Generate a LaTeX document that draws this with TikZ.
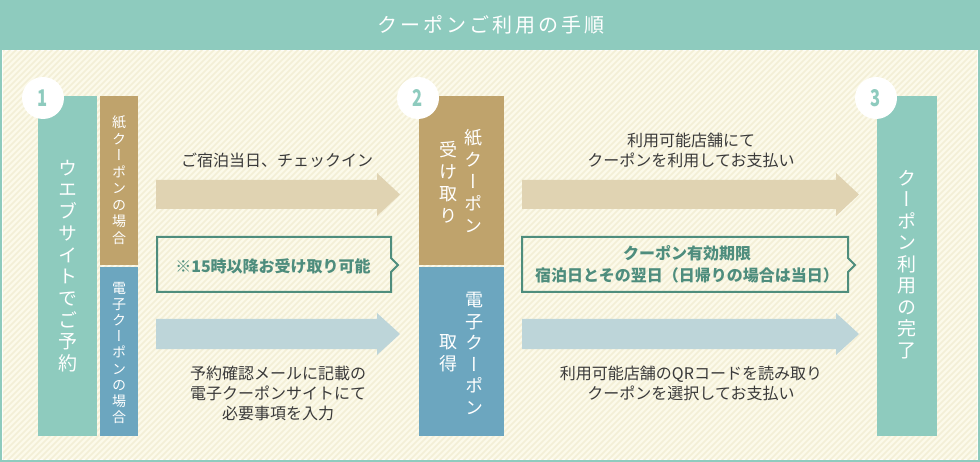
\documentclass[tikz,border=0pt]{standalone}
\usepackage{fontspec}
\setmainfont{Noto Sans CJK JP}
\newfontfamily\jpv[RawFeature=+vert]{Noto Sans CJK JP}
\definecolor{cteal}{HTML}{8ECBBE}
\definecolor{cgold}{HTML}{BFA36C}
\definecolor{cblue}{HTML}{6CA6BF}
\definecolor{carrgold}{HTML}{E0D3B2}
\definecolor{carrblue}{HTML}{BDD5D9}
\definecolor{cnote}{HTML}{4E8D7D}
\definecolor{ccream}{HTML}{FCFAEA}
\definecolor{cstripe}{HTML}{F3EFD6}
\definecolor{ctext}{HTML}{3A3A3A}
\tikzset{
  panel/.style={inner sep=0pt, anchor=north west},
  numcirc/.style={circle, fill=white, minimum size=42pt, inner sep=0pt, text=cteal},
  bodytext/.style={text=ctext, align=center, font=\fontsize{16}{20}\selectfont, inner sep=0pt},
  notetext/.style={text=cnote, align=center, font=\bfseries\fontsize{16}{22}\selectfont, inner sep=0pt},
  notebox/.style={draw=cnote, line width=2pt, line join=miter},
  vch/.style={text=white, inner sep=0pt}
}
\newcommand\vcol[6]{%
  \foreach \c [count=\i] in {#6} {%
    \node[vch, font=\jpv\fontsize{#5}{#5}\selectfont, text height={0.88*#5pt}, text depth={0.12*#5pt}]
      (#1-\i) at (#2, {#3+(\i-1)*#4}) {\c};}%
}
\newcommand\numtxt[1]{\scalebox{0.72}[1]{\bfseries\fontsize{23}{23}\selectfont #1}}
\begin{document}
\begin{tikzpicture}[x=1pt,y=-1pt]
\useasboundingbox (0,0) rectangle (980,462);
% frame and header
\fill[cteal] (0,0) rectangle (980,462);
\fill[white!70!ccream] (2,50) rectangle (978,460);
\fill[ccream] (3,51) rectangle (977,459);
\begin{scope}
  \clip (3,51) rectangle (977,459);
  \foreach \s in {-420,-414,...,980} {
    \draw[cstripe, line width=1.6pt] (\s,462) -- ++(420,-420);
  }
\end{scope}
\node[text=white, font=\fontsize{20}{20}\selectfont\addfontfeature{LetterSpace=15}] (title) at (491,25) {クーポンご利用の手順};

% step 1 panels
\node[panel, fill=cteal, minimum width=59pt, minimum height=340pt] (b1) at (38,96) {};
\node[panel, fill=cgold, minimum width=38pt, minimum height=169pt] (b1p) at (100,96) {};
\node[panel, fill=cblue, minimum width=38pt, minimum height=169pt] (b1e) at (100,267) {};
% step 2 panels
\node[panel, fill=cgold, minimum width=85pt, minimum height=169pt] (b2p) at (419,96) {};
\node[panel, fill=cblue, minimum width=85pt, minimum height=169pt] (b2e) at (419,267) {};
% step 3 panel
\node[panel, fill=cteal, minimum width=60pt, minimum height=340pt] (b3) at (877,96) {};

% number circles
\node[numcirc] (c1) at (43,98) {\numtxt{1}};
\node[numcirc] (c2) at (418,98) {\numtxt{2}};
\node[numcirc] (c3) at (876,98) {\numtxt{3}};

% vertical texts
\vcol{v1}{68}{168}{21.7}{19}{ウ,エ,ブ,サ,イ,ト,で,ご,予,約}
\vcol{v1p}{119}{122.3}{16.5}{14}{紙,ク,ー,ポ,ン,の,場,合}
\vcol{v1e}{119}{287.7}{16.2}{14}{電,子,ク,ー,ポ,ン,の,場,合}
\vcol{v2pa}{473}{138}{22}{18}{紙,ク,ー,ポ,ン}
\vcol{v2pb}{448}{149.5}{22}{18}{受,け,取,り}
\vcol{v2ea}{474}{300}{21.5}{18}{電,子,ク,ー,ポ,ン}
\vcol{v2eb}{448}{342}{22}{18}{取,得}
\vcol{v3}{907}{178}{21.5}{19}{ク,ー,ポ,ン,利,用,の,完,了}

% arrows
\fill[carrgold] (156,180) -- (377,180) -- (377,173) -- (400,194.5) -- (377,216) -- (377,209) -- (156,209) -- cycle;
\fill[carrblue] (156,319) -- (377,319) -- (377,313) -- (400,334) -- (377,355) -- (377,349) -- (156,349) -- cycle;
\fill[carrgold] (522,180) -- (836,180) -- (836,173) -- (859,194.5) -- (836,216) -- (836,209) -- (522,209) -- cycle;
\fill[carrblue] (522,319) -- (836,319) -- (836,313) -- (859,334) -- (836,355) -- (836,349) -- (522,349) -- cycle;

% note boxes
\draw[notebox] (157,237) -- (391,237) -- (391,258) -- (398,265) -- (391,272) -- (391,292) -- (157,292) -- cycle;
\draw[notebox] (522,237) -- (848,237) -- (848,258) -- (855,265) -- (848,272) -- (848,292) -- (522,292) -- cycle;

% texts
\node[bodytext] (t1) at (277,160) {ご宿泊当日、チェックイン};
\node[notetext] (n1) at (273,266) {※15時以降お受け取り可能};
\node[bodytext] (t2) at (278,393) {予約確認メールに記載の\\電子クーポンサイトにて\\必要事項を入力};
\node[bodytext] (t3) at (691,150) {利用可能店舗にて\\クーポンを利用してお支払い};
\node[notetext] (n2) at (687,264) {クーポン有効期限\\宿泊日とその翌日（日帰りの場合は当日）};
\node[bodytext] (t4) at (691,383) {利用可能店舗のQRコードを読み取り\\クーポンを選択してお支払い};
\end{tikzpicture}
\end{document}
